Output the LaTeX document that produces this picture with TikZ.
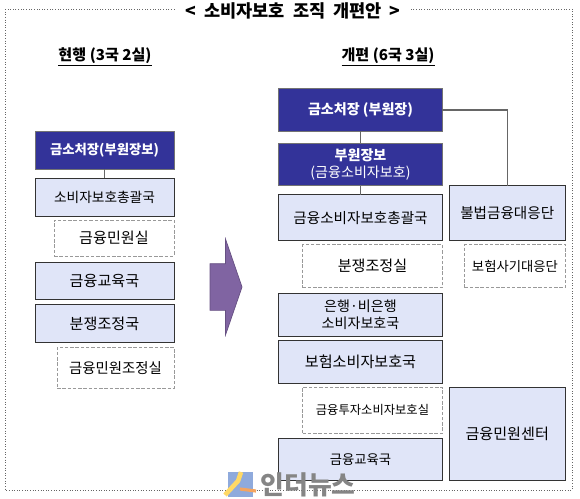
\documentclass[tikz,border=0pt]{standalone}
\usepackage{fontspec}
\setmainfont{Noto Sans CJK KR}
\usetikzlibrary{positioning,shapes.arrows}
\definecolor{navy}{HTML}{333399}
\definecolor{pale}{HTML}{E0E5F8}
\definecolor{plum}{HTML}{8064A2}
\definecolor{logoblue}{HTML}{8FAADC}
\definecolor{logoyellow}{HTML}{FFD966}
\definecolor{logoorange}{HTML}{F4A460}

\begin{document}
\begin{tikzpicture}[
  x=0.02cm, y=-0.02cm,
  node distance=0.1cm and 0.12cm,
  box/.style={draw=black!80, line width=0.55pt, fill=pale, inner sep=0pt, outer sep=0pt, align=center, font=\fontsize{8}{9.6}\selectfont},
  head/.style={box, draw=black!55, fill=navy, text=white},
  sub/.style={box, draw=black!40, dash pattern=on 2pt off 1pt, fill=white},
  oldbox/.style={minimum width=2.78cm, minimum height=0.76cm},
  newbox/.style={minimum width=3.28cm, minimum height=0.85cm},
  sidebox/.style={minimum width=2.33cm},
  bigger/.style={font=\fontsize{8.6}{10}\selectfont},
  narrow/.style={font=\fontsize{7.6}{9}\selectfont},
  link/.style={draw=black!60, line width=0.8pt},
  heading/.style={inner sep=0pt, font=\fontsize{8.6}{10}\selectfont\bfseries}
]
  \useasboundingbox (0,0) rectangle (580,498);

  % frame and title
  \draw[black!60, densely dotted, line width=0.5pt] (5,9) rectangle (572,490);
  \node[inner sep=0pt, minimum width=4.68cm, fill=white, font=\fontsize{10}{12}\selectfont\bfseries, minimum height=0.4cm] (title) at (293,11) {<\ \ 소비자보호\ \ 조직\ \ 개편안\ \ >};

  \node[heading] (oldhead) at (105,57) {\underline{현행 (3국 2실)}};
  \node[heading] (newhead) at (388,57) {\underline{개편 (6국 3실)}};

  % current organisation
  \node[head, oldbox, font=\fontsize{7.6}{9}\selectfont\bfseries] (oldchief) at (104.5,150) {금소처장(부원장보)};
  \node[box, oldbox, below=0.18cm of oldchief, font=\fontsize{7.8}{9}\selectfont] (oldsum) {소비자보호총괄국};
  \node[sub, bigger, minimum width=2.4cm, minimum height=0.72cm, below left=0.08cm and 0cm of oldsum.south east] (oldcivil) {금융민원실};
  \node[box, oldbox, bigger, below=0.92cm of oldsum] (oldedu) {금융교육국};
  \node[box, oldbox, bigger, below=0.09cm of oldedu] (olddisp) {분쟁조정국};
  \node[sub, minimum width=2.34cm, minimum height=0.82cm, below left=0.1cm and 0cm of olddisp.south east, font=\fontsize{8.2}{10}\selectfont] (oldmed) {금융민원조정실};

  \draw[link] (oldchief) -- (oldsum);

  % arrow between the two columns
  \node[single arrow, draw=plum!80!black, fill=plum, inner sep=0pt, inner ysep=0.46cm, outer sep=0pt,
    minimum height=0.64cm, single arrow head extend=0.49cm,
    single arrow tip angle=142] (change) at (222,287) {};

  % reorganised structure
  \node[head, newbox, font=\fontsize{8}{9.6}\selectfont\bfseries] (chief) at (360.5,110) {금소처장 (부원장)};
  \node[head, newbox, below=0.24cm of chief] (vice) {\textbf{부원장보}\\(금융소비자보호)};
  \node[box, newbox, minimum height=0.92cm, below=0.18cm of vice, font=\fontsize{8.3}{10}\selectfont] (sum) {금융소비자보호총괄국};
  \node[sub, bigger, minimum width=2.8cm, minimum height=0.86cm, below left=0.08cm and 0cm of sum.south east] (disp) {분쟁조정실};
  \node[box, newbox, below=0.12cm of disp.south -| sum] (bank) {은행·비은행\\소비자보호국};
  \node[box, newbox, bigger, below=0.09cm of bank] (ins) {보험소비자보호국};
  \node[sub, minimum width=2.8cm, minimum height=0.92cm, below left=0.08cm and 0cm of ins.south east, font=\fontsize{7}{8}\selectfont] (invest) {금융투자소비자보호실};
  \node[box, newbox, narrow, below=0.1cm of invest.south -| ins] (edu) {금융교육국};

  \node[box, sidebox, minimum height=1.1cm, right=0.13cm of sum.south east, anchor=south west, font=\fontsize{8.3}{10}\selectfont] (illegal) {불법금융대응단};
  \node[sub, narrow, minimum width=2.02cm, minimum height=0.86cm, below left=0.08cm and 0cm of illegal.south east] (fraud) {보험사기대응단};
  \node[box, sidebox, bigger, minimum height=1.86cm, right=0.13cm of edu.south east, anchor=south west] (center) {금융민원센터};

  \draw[link] (chief) -- (vice);
  \draw[link] (vice) -- (sum);
  \draw[link] (chief) -| (illegal);

  % watermark
  \fill[logoblue] (228,472) rectangle (253,497);
  \draw[logoyellow, line width=2.6pt] (225,495) -- (238,481) -- (241,472);
  \draw[logoorange, line width=1.8pt] (240,489) -- (256,491);
  \node[text=black!48, inner sep=0pt, font=\fontsize{14.7}{16}\selectfont\bfseries] (mark) at (308,485) {인더뉴스};
\end{tikzpicture}
\end{document}
